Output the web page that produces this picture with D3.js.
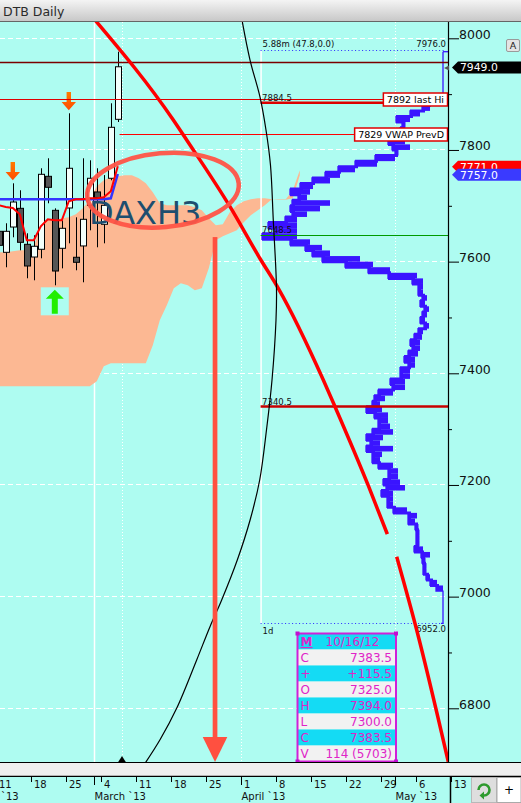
<!DOCTYPE html>
<html><head><meta charset="utf-8">
<script src="https://cdn.jsdelivr.net/npm/d3@7/dist/d3.min.js"></script>
<style>
html,body{margin:0;padding:0;overflow:hidden;background:#fff}
svg{display:block}
text{font-family:"DejaVu Sans",sans-serif}
</style></head><body>
<svg id="chart" width="521" height="803"></svg>
<script>
// ================= DATA =================
// trading-day index: 0 = Fri 1 March 2013 (weekdays only)
const candleDay   = [-14,-13,-12,-11,-10,-9,-8,-7,-6,-5,-4,-3,-2,-1,0,1,2,3];
const candleOpen  = [7654.3,7616.7,7662.0,7695.5,7631.0,7608.3,7622.1,7752.8,7691.9,7623.9,7696.1,7607.8,7628.1,7700.9,7724.8,7666.9,7749.3,7854.9];
const candleHigh  = [7670.0,7668.7,7740.3,7727.8,7650.8,7647.2,7767.2,7785.1,7695.5,7674.0,7865.7,7679.4,7785.1,7781.5,7767.2,7755.0,7883.6,7976.0];
const candleLow   = [7615.0,7589.9,7643.6,7620.3,7570.2,7566.6,7606.0,7704.5,7557.6,7588.0,7632.8,7584.5,7563.0,7656.1,7625.7,7632.8,7745.7,7850.1];
const candleClose = [7629.2,7654.3,7706.8,7634.6,7592.2,7627.5,7756.4,7733.1,7583.2,7659.7,7767.2,7598.8,7675.8,7749.3,7714.7,7700.9,7840.6,7949.0];
const tenkan = [7700.9,7697.8,7696.1,7684.8,7638.2,7638.2,7663.3,7675.8,7674.0,7674.0,7708.1,7711.6,7711.6,7713.4,7713.4,7715.2,7726.0,7771.0];
const kijun  = [7711.6,7711.6,7711.6,7711.6,7711.6,7711.6,7711.6,7711.6,7711.6,7711.6,7711.6,7711.6,7711.6,7711.6,7711.6,7711.6,7713.4,7757.0];

const cloudDay = d3.range(-14,30);
const cloudUpper = [7616.7,7616.7,7618.5,7620.3,7620.3,7623.9,7670.4,7674.0,7674.0,7677.6,7679.4,7684.8,7695.5,7709.8,
  7734.9,7745.7,7751.0,7752.8,7754.6,7754.6,7749.2,7740.3,7724.2,7704.5,7700.9,7700.9,7700.9,7700.9,7697.3,7691.9,
  7677.6,7665.1,7666.9,7688.3,7700.9,7708.0,7711.6,7713.4,7713.4,7711.6,7711.6,7711.6,7727.8,7763.6];
const cloudLower = [7376.7,7376.7,7376.7,7376.7,7376.7,7376.7,7376.7,7376.7,7376.7,7376.7,7376.7,7376.7,7376.7,7376.7,
  7385.6,7412.5,7417.9,7417.9,7417.9,7417.9,7417.9,7417.9,7450.1,7494.9,7521.8,7552.2,7561.2,7557.6,7548.6,7552.2,
  7588.0,7638.2,7645.4,7650.8,7656.1,7670.4,7683.0,7691.9,7700.9,7711.6,7710.7,7710.7,7713.4,7754.6];

const downSignalDay = [-12,-4];
const upSignalDay = [-6];

const levelPrice = [7957, 7892, 7829];
const levelLabel = ['', '7892 last Hi', '7829 VWAP PrevD'];

// volume profile (rows of 10 points): largest volume (left tip) and smallest (right edge) per row
const profPrice = d3.range(7970, 6940, -10);
const profVol = [2,2,2,2,2,2,2,2,
  13,17,23,35,49,43,45,50,57,53,50,70,90,107,120,133,145,155,147,153,155,153,160,177,170,183,
  155,140,133,123,100,77,57,33,27,27,23,25,21,23,25,21,27,31,35,33,37,41,37,45,45,55,53,
  67,71,73,79,71,67,67,73,79,75,79,73,73,67,57,57,62,59,64,58,58,52,37,37,30,29,29,29,31,
  24,23,22,22,19,15,9,2,2,2,2,2,2,2];
const profVolMin = [0,0,0,0,0,0,0,0,
  5,10,15,25,35,40,40,45,40,35,
  47,50,68,90,105,115,132,135,138,115,
  125,138,148,148,148,148,135,123,115,85,
  72,55,28,22,22,22,18,20,16,18,
  20,16,22,23,25,25,27,30,30,35,
  35,40,40,52,60,65,63,57,57,55,
  52,62,65,52,63,65,52,47,47,45,
  40,52,52,52,38,28,30,27,27,27,
  27,22,15,20,20,20,15,8,2,2,
  0,0,0,0,0];
const profHigh = 7976.0, profLow = 6952.0, profStartDay = 23.8;
const profInfo = '5.88m (47.8,0.0)', profPeriod = '1d';
const profLevelPrice = [7884.5, 7648.5, 7340.5];
const profLevelLabel = ['7884.5', '7648.5', '7340.5'];

// drawn annotations (day, price)
const trend1Day = [0.14,11.33,13.24,19.43,23.71,26.33,32.76,34.43,39.19,41.9];
const trend1Price = [8032.8,7853.7,7817.9,7698.4,7605.6,7552.2,7388.0,7340.2,7198.7,7112.1];
const trend2Day = [43.24,46.1,50.61];
const trend2Price = [7071.5,6940.2,6704.3];
const arcDay = [21.14,22.29,23.71,24.57,25.21,25.61,26.07,26.0,25.43,24.64,23.67,22.3,20.47,18.24,16.57,14.67,11.81,9.43,7.0];
const arcPrice = [8032.8,7961.1,7894.9,7835.8,7773.1,7674.6,7552.8,7495.5,7388.0,7298.5,7208.9,7137.3,7065.6,6994.0,6946.2,6886.6,6800.0,6743.6,6696.0];
const arrowDay = 17.29, arrowTopPrice = 7644;
const circleDay = 9.86, circlePrice = 7728;
const symbolText = 'DAXH3', symbolDay = -0.7, symbolPrice = 7668;
const todayDay = 4;

const infoLabel = ['M','C','+','O','H','L','C','V'];
const infoValue = ['10/16/12','7383.5','+115.5','7325.0','7394.0','7300.0','7383.5','114 (5703)'];

const tagPrice = [7949.0, 7771.0, 7757.0];

const yMajor = [6800,7000,7200,7400,7600,7800,8000];
const yMinor = [6900,7100,7300,7500,7700,7900];
const weekTickDay = [-14,-9,-4,1,6,11,16,21,26,31,36,41,46,51];
const weekTickLabel = ['11','18','25','4','11','18','25','1','8','15','22','29','6','13'];
const monthTickDay = [-19,0,21,43];
const monthTickLabel = ['`13','March `13','April `13','May `13'];
const gridSolidDay = [0];
const gridDotDay = [4,21,43];

// ================= LAYOUT =================
const W=521,H=803, PR=448, PT=22, PB=762;
const BG='#aefcf1';
const x=d3.scaleLinear().domain([0,1]).range([94,101]);
const y=d3.scaleLinear().domain([6800,8000]).range([708.3,38.3]);
const vol=d3.scaleLinear().domain([0,185]).range([445,260]);

const svg=d3.select('#chart');
const defs=svg.append('defs');
const tg=defs.append('linearGradient').attr('id','tbar').attr('x1',0).attr('x2',0).attr('y1',0).attr('y2',1);
tg.append('stop').attr('offset',0).attr('stop-color','#f4f4f4');
tg.append('stop').attr('offset',1).attr('stop-color','#c8c8c8');
const og=defs.append('linearGradient').attr('id','orng').attr('x1',0).attr('x2',0).attr('y1',0).attr('y2',1);
og.append('stop').attr('offset',0).attr('stop-color','#ff7a00');
og.append('stop').attr('offset',1).attr('stop-color','#ff4a00');
defs.append('clipPath').attr('id','cp').append('rect').attr('x',0).attr('y',PT).attr('width',PR).attr('height',PB-PT);

svg.append('rect').attr('width',W).attr('height',H).attr('fill',BG);
svg.append('rect').attr('x',0).attr('y',0).attr('width',W).attr('height',21).attr('fill','url(#tbar)');
svg.append('line').attr('x1',0).attr('x2',W).attr('y1',21.5).attr('y2',21.5).attr('stroke','#666');
svg.append('text').attr('x',3).attr('y',16).attr('font-size',12.5).attr('fill','#2a2a2a').text('DTB Daily');

const P=svg.append('g').attr('clip-path','url(#cp)');

// grid
P.selectAll('.hg').data(yMajor).join('line')
  .attr('x1',0).attr('x2',PR).attr('y1',d=>Math.floor(y(d))+0.5).attr('y2',d=>Math.floor(y(d))+0.5)
  .attr('stroke','#fff').attr('stroke-dasharray','5,3');
P.selectAll('.vs').data(gridSolidDay).join('line')
  .attr('x1',d=>x(d)+0.5).attr('x2',d=>x(d)+0.5).attr('y1',PT).attr('y2',PB)
  .attr('stroke','#fff').attr('stroke-width',1.5);
P.selectAll('.vd').data(gridDotDay).join('line')
  .attr('x1',d=>x(d)+0.5).attr('x2',d=>x(d)+0.5).attr('y1',PT).attr('y2',PB)
  .attr('stroke','#fff').attr('stroke-dasharray','1,2');

// cloud
const cloud=cloudDay.map((d,i)=>({d,u:cloudUpper[i],l:cloudLower[i]}));
P.append('path').datum(cloud)
  .attr('d',d3.area().x(c=>x(c.d+0.4)).y0(c=>y(c.l)).y1(c=>y(c.u)))
  .attr('fill','#fcb893');

const candles=candleDay.map((d,i)=>({d,o:candleOpen[i],h:candleHigh[i],l:candleLow[i],c:candleClose[i]}));
const cByDay=new Map(candles.map(c=>[c.d,c]));

// signals
upSignalDay.forEach(d=>{
  const c=cByDay.get(d), cx=x(d+0.4), t=y(c.l)+4.5;
  P.append('rect').attr('x',cx-14).attr('y',t-2.5).attr('width',28).attr('height',28).attr('fill',BG);
  P.append('path').attr('d',`M${cx},${t} L${cx+9},${t+9} L${cx+3},${t+9} L${cx+3},${t+24} L${cx-3},${t+24} L${cx-3},${t+9} L${cx-9},${t+9} Z`)
    .attr('fill','#22ee00');
});
downSignalDay.forEach(d=>{
  const c=cByDay.get(d), cx=x(d+0.4), t=y(c.h)-3;
  P.append('path').attr('d',`M${cx},${t} L${cx+7.2},${t-8.3} L${cx+2.2},${t-8.3} L${cx+2.2},${t-18.3} L${cx-2.2},${t-18.3} L${cx-2.2},${t-8.3} L${cx-7.2},${t-8.3} Z`)
    .attr('fill','url(#orng)');
});

// candles
const cg=P.append('g');
candles.forEach(c=>{
  const cx=Math.round(x(c.d+0.4))+0.5;
  cg.append('line').attr('x1',cx).attr('x2',cx).attr('y1',y(c.h)).attr('y2',y(c.l)).attr('stroke','#000');
  const top=y(Math.max(c.o,c.c)), bot=y(Math.min(c.o,c.c));
  cg.append('rect').attr('x',cx-3).attr('y',top).attr('width',6).attr('height',Math.max(1,bot-top))
    .attr('fill',c.c>=c.o?'#f2fffb':'#555').attr('stroke','#000');
});

// ichimoku lines
const ln=d3.line().x(p=>x(p[0]+0.4)).y(p=>y(p[1]));
P.append('path').datum(candles.map((c,i)=>[c.d,kijun[i]])).attr('d',ln)
  .attr('fill','none').attr('stroke','#3333ff').attr('stroke-width',2.5);
P.append('path').datum(candles.map((c,i)=>[c.d,tenkan[i]])).attr('d',ln)
  .attr('fill','none').attr('stroke','#ff0000').attr('stroke-width',2);

// volume profile
const pLeft=x(profStartDay);
P.append('line').attr('x1',pLeft+0.5).attr('x2',pLeft+0.5).attr('y1',y(profHigh)-1.5).attr('y2',y(profLow))
  .attr('stroke','#fff').attr('stroke-width',1.5);
[y(profHigh)-1.5, y(profLow)].forEach(yy=>{
  P.append('line').attr('x1',pLeft).attr('x2',446).attr('y1',Math.round(yy)+0.5).attr('y2',Math.round(yy)+0.5)
    .attr('stroke','#2b2bff').attr('stroke-dasharray','1,2.5');
});
const rows=profPrice.map((p,i)=>({p,v:profVol[i],vm:profVolMin[i]}));
const pts=[], thick=[];
const PCOL='#3a14ff';
rows.forEach(r=>{
  const top=Math.min(r.p+10,profHigh), bot=Math.max(r.p,profLow);
  const a=[vol(r.v),y(top)], b=[vol(r.v),y(bot)];
  pts.push(a,b);
  if(r.v>4){
    thick.push([a[0]+1.5,a[1]],[b[0]+1.5,b[1]]);
    const xl=vol(r.v), xr=Math.max(vol(r.vm), xl+3.5);
    P.append('rect').attr('x',xl).attr('y',y(top)).attr('width',xr-xl).attr('height',y(bot)-y(top)).attr('fill',PCOL);
  }
});
P.append('path').attr('d',d3.line()(pts)).attr('fill','none').attr('stroke',PCOL).attr('stroke-width',1.3);
P.append('path').attr('d',d3.line()(thick)).attr('fill','none').attr('stroke',PCOL).attr('stroke-width',3).attr('stroke-linejoin','miter');
P.append('line').attr('x1',vol(2)).attr('x2',PR).attr('y1',y(profHigh)).attr('y2',y(profHigh)).attr('stroke',PCOL).attr('stroke-width',1.3);
P.append('line').attr('x1',vol(4)).attr('x2',vol(2)).attr('y1',y(profLow)).attr('y2',y(profLow)).attr('stroke',PCOL).attr('stroke-width',1.3);

// level lines with label boxes
const boxLeft=[];
levelPrice.forEach((p,i)=>{
  if(!levelLabel[i]){ boxLeft.push(PR); return; }
  const t=P.append('text').attr('x',444).attr('y',y(p)+3.5).attr('text-anchor','end').attr('font-size',9.5).attr('fill','#000').text(levelLabel[i]);
  const w=t.node().getComputedTextLength();
  boxLeft.push(444-w-3.5);
  t.remove();
});
P.append('line').attr('x1',pLeft).attr('x2',boxLeft[1]).attr('y1',y(profLevelPrice[0])).attr('y2',y(profLevelPrice[0])).attr('stroke','#dd0000').attr('stroke-width',2.5);
P.append('line').attr('x1',pLeft).attr('x2',PR).attr('y1',Math.round(y(profLevelPrice[1]))+0.5).attr('y2',Math.round(y(profLevelPrice[1]))+0.5).attr('stroke','#009a00').attr('stroke-width',1.2);
P.append('line').attr('x1',pLeft).attr('x2',PR).attr('y1',y(profLevelPrice[2])).attr('y2',y(profLevelPrice[2])).attr('stroke','#c80000').attr('stroke-width',2.5);

const lastDay=candleDay[candleDay.length-1];
const levelStart=[0,0,x(lastDay+0.65)];
const levelColor=['#7a0000','#e00000','#ff0000'];
const levelWidth=[1.5,1,1];
levelPrice.forEach((p,i)=>{
  const yy=Math.round(y(p))+0.5;
  P.append('line').attr('x1',levelStart[i]).attr('x2',boxLeft[i]).attr('y1',yy).attr('y2',yy)
    .attr('stroke',levelColor[i]).attr('stroke-width',levelWidth[i]);
  if(levelLabel[i]){
    P.append('rect').attr('x',boxLeft[i]).attr('y',yy-6.5).attr('width',447.5-boxLeft[i]).attr('height',13)
      .attr('fill','#fff').attr('stroke','#e00000').attr('stroke-width',1.5);
    P.append('text').attr('x',444).attr('y',yy+3.5).attr('text-anchor','end').attr('font-size',9.5).attr('fill','#000').text(levelLabel[i]);
  }
});

// profile texts
const ptxt=(tx,ty,s,anchor)=>P.append('text').attr('x',tx).attr('y',ty).attr('text-anchor',anchor||'start').attr('font-size',8.5).attr('fill','#111').text(s);
ptxt(pLeft+2,y(profHigh)-4.5,profInfo);
ptxt(446,y(profHigh)-4.5,profHigh.toFixed(1),'end');
ptxt(446,y(profLow)+9,profLow.toFixed(1),'end');
ptxt(pLeft+2,y(profLow)+10.5,profPeriod);
profLevelPrice.forEach((p,i)=>ptxt(pLeft+1.5,y(p)-1.5,profLevelLabel[i]));

// trend lines (drawn annotations)
const dl=d3.line().x(p=>x(p[0])).y(p=>y(p[1])).curve(d3.curveMonotoneX);
P.append('path').attr('d',dl(trend1Day.map((d,i)=>[d,trend1Price[i]]))).attr('fill','none').attr('stroke','#ff0000').attr('stroke-width',3.5);
P.append('path').attr('d',dl(trend2Day.map((d,i)=>[d,trend2Price[i]]))).attr('fill','none').attr('stroke','#ff0000').attr('stroke-width',3.5);
P.append('path').attr('d',d3.line().x(p=>x(p[0])).y(p=>y(p[1])).curve(d3.curveCatmullRom)(arcDay.map((d,i)=>[d,arcPrice[i]])))
  .attr('fill','none').attr('stroke','#000').attr('stroke-width',1.2);

// circle + symbol text
P.append('text').attr('x',x(symbolDay)).attr('y',y(symbolPrice)).attr('font-family','"Liberation Sans",Arial,sans-serif')
  .attr('font-size',32).attr('fill','#1d4e6f').text(symbolText);
const ecx=x(circleDay), ecy=y(circlePrice);
P.append('ellipse').attr('cx',ecx).attr('cy',ecy).attr('rx',76).attr('ry',37).attr('transform',`rotate(-5 ${ecx} ${ecy})`)
  .attr('fill','none').attr('stroke','#ff5446').attr('stroke-width',4.5).attr('opacity',0.95);

// big arrow
const axx=x(arrowDay);
P.append('rect').attr('x',axx-2.35).attr('y',y(arrowTopPrice)).attr('width',4.7).attr('height',PB-25-y(arrowTopPrice)+1).attr('fill','#ff5040');
P.append('path').attr('d',`M${axx-12.3},${PB-25} L${axx+12.3},${PB-25} L${axx},${PB} Z`).attr('fill','#ff5040');

// today marker
P.append('path').attr('d',`M${x(todayDay)-3.8},${PB} L${x(todayDay)+3.8},${PB} L${x(todayDay)},${PB-6} Z`).attr('fill','#000');

// ============ right axis ============
svg.append('line').attr('x1',PR+0.5).attr('x2',PR+0.5).attr('y1',PT).attr('y2',PB).attr('stroke','#000').attr('stroke-width',1.2);
const ax=svg.append('g').attr('transform',`translate(${PR},0)`)
  .call(d3.axisRight(y).tickValues(yMajor).tickSize(11).tickFormat(d3.format('d')));
ax.select('.domain').remove();
ax.attr('font-family','"DejaVu Sans",sans-serif').attr('font-size',12.5);
ax.selectAll('line').attr('stroke','#000');
ax.selectAll('text').attr('x',11).attr('dy',0).attr('y',0).attr('fill','#111');
const axm=svg.append('g').attr('transform',`translate(${PR},0)`)
  .call(d3.axisRight(y).tickValues(yMinor).tickSize(4).tickFormat(''));
axm.select('.domain').remove();
axm.selectAll('line').attr('stroke','#000');

// A button
svg.append('rect').attr('x',506.5).attr('y',39.5).attr('width',13).attr('height',12).attr('rx',1.5).attr('fill','#e4e4e4').attr('stroke','#9a9a9a');
svg.append('text').attr('x',513).attr('y',49).attr('text-anchor','middle').attr('font-size',9.5).attr('fill','#222').text('A');

// price tags
svg.append('path').attr('d','M444,68 L449,65.5 L449,70.5 Z').attr('fill','#555');
const tagColor=['#000','#ff0000','#3a3aff'];
tagPrice.forEach((p,i)=>{
  const yc=y(p)+0.7;
  svg.append('path').attr('d',`M452,${yc} L458,${yc-6} L521,${yc-6} L521,${yc+6} L458,${yc+6} Z`).attr('fill',tagColor[i]);
  svg.append('text').attr('x',460).attr('y',yc+4).attr('font-size',10.8).attr('fill','#fff').text(p.toFixed(1));
});

// info box
const bx=297.5, by=633.5, bw=98.5, rh=16;
const ib=svg.append('g');
infoLabel.forEach((l,i)=>{
  ib.append('rect').attr('x',bx).attr('y',by+i*rh).attr('width',bw).attr('height',rh).attr('fill',i%2?'#f2f2f2':'#14dbf4');
  const lt=ib.append('text').attr('x',bx+3).attr('y',by+i*rh+12.5).attr('font-family','"DejaVu Sans Mono",monospace')
    .attr('font-size',12).attr('fill','#e024c8').text(l);
  if(i===0) lt.attr('font-weight','bold').attr('text-decoration','underline');
  ib.append('text').attr('x',i===0?bx+55:bx+bw-4).attr('y',by+i*rh+12.5).attr('text-anchor',i===0?'middle':'end')
    .attr('font-family','"DejaVu Sans Mono",monospace').attr('font-size',12).attr('fill','#e024c8').text(infoValue[i]);
});
ib.append('rect').attr('x',bx).attr('y',by).attr('width',bw).attr('height',rh*8).attr('fill','none').attr('stroke','#d020d8').attr('stroke-width',2);
[[bx,by],[bx+bw,by],[bx,by+rh*8],[bx+bw,by+rh*8]].forEach(c=>{
  ib.append('rect').attr('x',c[0]-2).attr('y',c[1]-2).attr('width',4).attr('height',4).attr('fill','#c010d0');
});

// ============ bottom chrome / time axis ============
svg.append('rect').attr('x',0).attr('y',PB).attr('width',W).attr('height',15).attr('fill','#efefef');
svg.append('line').attr('x1',0).attr('x2',W).attr('y1',PB+0.5).attr('y2',PB+0.5).attr('stroke','#000');
svg.append('line').attr('x1',0).attr('x2',W).attr('y1',776.5).attr('y2',776.5).attr('stroke','#000').attr('stroke-width',1.5);
svg.append('rect').attr('x',0).attr('y',777).attr('width',471).attr('height',26).attr('fill',BG);
svg.append('line').attr('x1',450.5).attr('x2',450.5).attr('y1',777).attr('y2',803).attr('stroke','#000').attr('stroke-width',1.5);

const tAx=svg.append('g').attr('transform','translate(0,777)')
  .call(d3.axisBottom(x).tickValues(weekTickDay).tickSize(5).tickFormat((d,i)=>weekTickLabel[i]));
tAx.select('.domain').remove();
tAx.attr('font-family','"DejaVu Sans",sans-serif').attr('font-size',10);
tAx.selectAll('line').attr('stroke','#000');
tAx.selectAll('text').attr('text-anchor','start').attr('x',2.5).attr('y',11).attr('dy',0).attr('fill','#111');

const mAx=svg.append('g').attr('transform','translate(0,777)')
  .call(d3.axisBottom(x).tickValues(monthTickDay).tickSize(8).tickFormat((d,i)=>monthTickLabel[i]));
mAx.select('.domain').remove();
mAx.attr('font-family','"DejaVu Sans",sans-serif').attr('font-size',10);
mAx.selectAll('line').attr('stroke','#000');
mAx.selectAll('text').attr('text-anchor','start').attr('x',d=>Math.max(0,0.5-x(d))).attr('y',23).attr('dy',0).attr('fill','#111');

// buttons
svg.append('rect').attr('x',471.5).attr('y',777.5).attr('width',25).attr('height',25).attr('fill','#dedede').attr('stroke','#b8b8b8');
svg.append('path').attr('d','M478.5,790 A5.5,5.5 0 1 1 484,795.5').attr('fill','none').attr('stroke','#2e9a2e').attr('stroke-width',2.6);
svg.append('path').attr('d','M484,791.5 L484,799.5 L479.5,795.5 Z').attr('fill','#2e9a2e');
svg.append('rect').attr('x',497).attr('y',777.5).attr('width',24).attr('height',25).attr('fill','#fff').attr('stroke','#aaa');
svg.append('text').attr('x',509).attr('y',794).attr('text-anchor','middle').attr('font-size',12).attr('fill','#000').text('+');
</script></body></html>
